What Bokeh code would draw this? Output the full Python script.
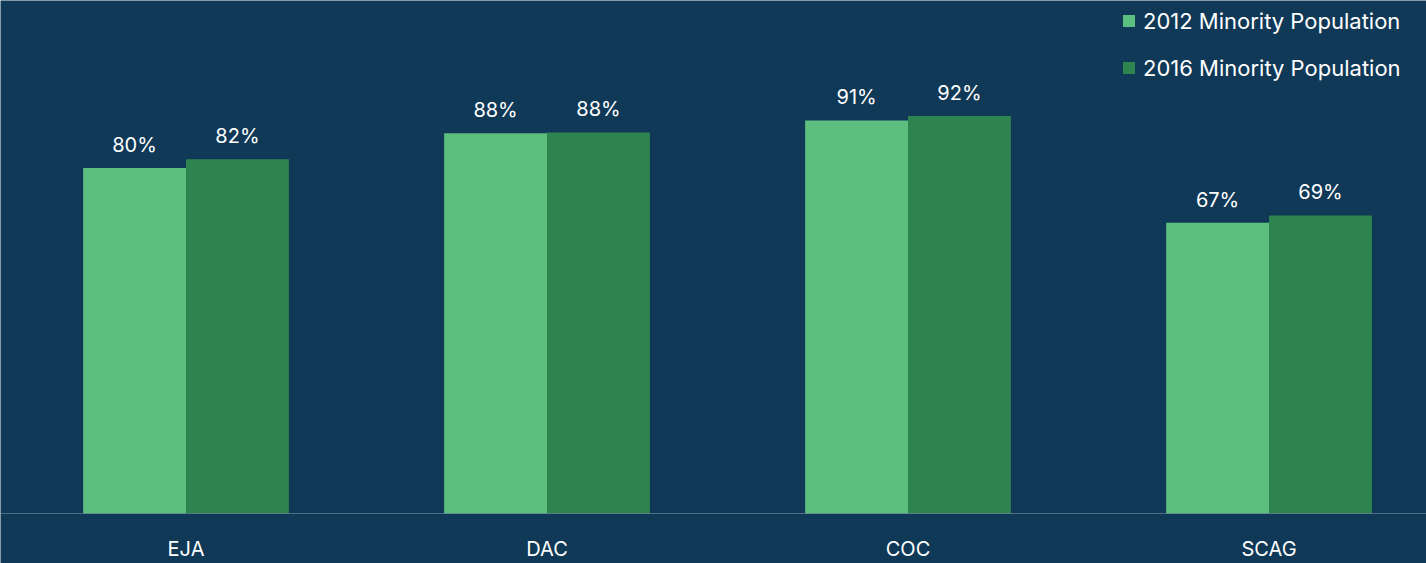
from bokeh.plotting import figure
from bokeh.models import ColumnDataSource, Range1d, Legend, LegendItem, LabelSet, Span
from bokeh.core.properties import value
from bokeh.embed import file_html
from bokeh.resources import INLINE

categories = ["EJA", "DAC", "COC", "SCAG"]
pop_2012 = [80.0, 88.0, 91.0, 67.3]
pop_2016 = [82.0, 88.2, 92.0, 69.0]
series_names = ["2012 Minority Population", "2016 Minority Population"]

BG = "#0f3957"
C12 = "#5dbf7f"
C16 = "#2e844e"
FONT = "Inter"

xs = list(range(len(categories)))
bw = 0.285
src12 = ColumnDataSource(dict(x=[i - bw / 2 for i in xs], top=pop_2012,
                              lab=[f"{round(v)}%" for v in pop_2012]))
src16 = ColumnDataSource(dict(x=[i + bw / 2 for i in xs], top=pop_2016,
                              lab=[f"{round(v)}%" for v in pop_2016]))
cat_src = ColumnDataSource(dict(x=xs, y=[0] * len(xs), cat=categories))

W, H = 1426, 563
PX = 4.32  # pixels per percent
x0 = -0.5139
p = figure(width=W, height=H, output_backend="svg", toolbar_location=None,
           x_range=Range1d(x0, x0 + W / 361), y_range=Range1d(-50 / PX, 513 / PX),
           min_border_left=0, min_border_right=0, min_border_top=0, min_border_bottom=0,
           background_fill_color=BG, border_fill_color=BG, outline_line_color=None)
p.xaxis.visible = False
p.yaxis.visible = False
p.xgrid.visible = False
p.ygrid.visible = False

r12 = p.vbar(x="x", top="top", bottom=0, width=bw, source=src12, fill_color=C12, line_color=None)
r16 = p.vbar(x="x", top="top", bottom=0, width=bw, source=src16, fill_color=C16, line_color=None)

for s in (src12, src16):
    p.add_layout(LabelSet(x="x", y="top", text="lab", source=s, text_align="center",
                          text_baseline="middle", y_offset=23, text_color="#ffffff",
                          text_font=value(FONT), text_font_size="20px"))

p.add_layout(Span(location=0, dimension="width", line_color="#8fa5b5",
                  line_dash="1 1", line_width=1))

p.add_layout(LabelSet(x="x", y="y", text="cat", source=cat_src, text_align="center",
                      text_baseline="middle", y_offset=-35, text_color="#ffffff",
                      text_font=value(FONT), text_font_size="20px"))

legend = Legend(items=[LegendItem(label=series_names[0], renderers=[r12]),
                       LegendItem(label=series_names[1], renderers=[r16])],
                location=(1121, 480.5), orientation="vertical",
                background_fill_alpha=0, border_line_color=None,
                label_text_color="#ffffff", label_text_font=FONT,
                label_text_font_size="22px", glyph_width=15, glyph_height=15,
                label_standoff=7, label_height=30, spacing=17, margin=0, padding=0)
p.add_layout(legend)

open("out.html", "w").write(file_html(p, INLINE))
